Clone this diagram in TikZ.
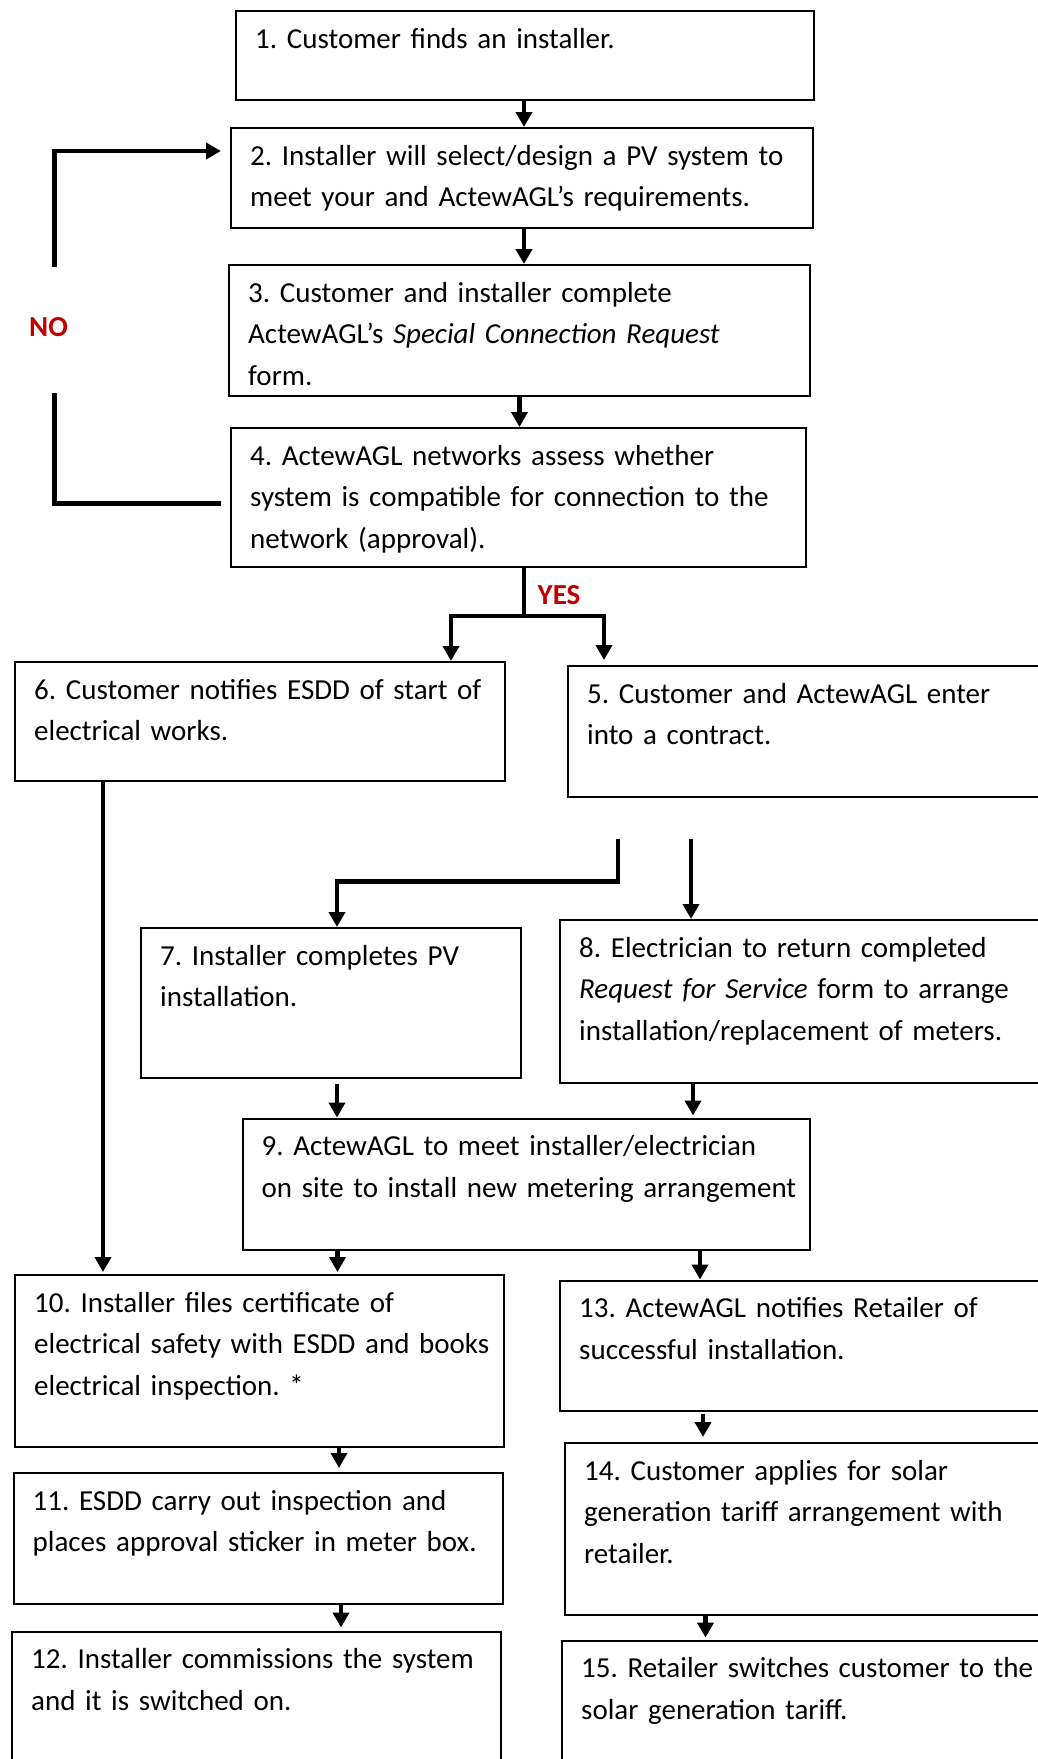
\documentclass[tikz,border=0pt]{standalone}
\usepackage{fontspec}
\setmainfont{Carlito}
\usetikzlibrary{arrows.meta}
\definecolor{answerred}{HTML}{C00000}
\newcommand\stepfont{\fontsize{29}{41.5}\selectfont\frenchspacing\spaceskip=5.6pt plus 2pt minus 1pt\relax}

\begin{document}
\begin{tikzpicture}[x=1pt, y=-1pt,
    stepbox/.style={draw, line width=2pt, inner sep=0pt, anchor=north west},
    steptext/.style={anchor=base west, inner sep=0pt, align=left, text width=600pt, font=\stepfont},
    flow/.style={line width=4.5pt, -{Triangle[length=15pt,width=16pt]}},
    bar/.style={line width=4.5pt},
    answer/.style={anchor=base west, inner sep=0pt, text=answerred, font=\fontsize{29}{36}\selectfont\bfseries}]
  \path[use as bounding box, clip] (0,0) rectangle (1038,1759);

  \node[stepbox, minimum width=578, minimum height=89] (b1) at (235,10) {};
  \node[steptext] (t1) at ([shift={(20,38)}]b1.north west) {1. Customer finds an installer.};
  \node[stepbox, minimum width=582, minimum height=100] (b2) at (230,127) {};
  \node[steptext] (t2) at ([shift={(20,38)}]b2.north west) {2. Installer will select/design a PV system to\\meet your and ActewAGL’s requirements.};
  \node[stepbox, minimum width=581, minimum height=131] (b3) at (228,264) {};
  \node[steptext] (t3) at ([shift={(20,38)}]b3.north west) {3. Customer and installer complete\\ActewAGL’s \textit{Special Connection Request}\\form.};
  \node[stepbox, minimum width=575, minimum height=139] (b4) at (230,427) {};
  \node[steptext] (t4) at ([shift={(20,38)}]b4.north west) {4. ActewAGL networks assess whether\\system is compatible for connection to the\\network (approval).};

  \node[stepbox, minimum width=490, minimum height=119] (b6) at (14,661) {};
  \node[steptext] (t6) at ([shift={(20,38)}]b6.north west) {6. Customer notifies ESDD of start of\\electrical works.};
  \node[stepbox, minimum width=493, minimum height=130.5] (b5) at (567,665) {};
  \node[steptext] (t5) at ([shift={(20,38)}]b5.north west) {5. Customer and ActewAGL enter\\into a contract.};

  \node[stepbox, minimum width=380, minimum height=150] (b7) at (140,927) {};
  \node[steptext] (t7) at ([shift={(20,38)}]b7.north west) {7. Installer completes PV\\installation.};
  \node[stepbox, minimum width=501, minimum height=163] (b8) at (559,919) {};
  \node[steptext] (t8) at ([shift={(20,38)}]b8.north west) {8. Electrician to return completed\\\textit{Request for Service} form to arrange\\installation/replacement of meters.};

  \node[stepbox, minimum width=567.5, minimum height=131] (b9) at (241.5,1117.5) {};
  \node[steptext] (t9) at ([shift={(20,38)}]b9.north west) {9. ActewAGL to meet installer/electrician\\on site to install new metering arrangement};

  \node[stepbox, minimum width=489, minimum height=171.5] (b10) at (14,1274) {};
  \node[steptext] (t10) at ([shift={(20,38)}]b10.north west) {10. Installer files certificate of\\electrical safety with ESDD and books\\electrical inspection. *};
  \node[stepbox, minimum width=489, minimum height=130.5] (b11) at (12.5,1472) {};
  \node[steptext] (t11) at ([shift={(20,38)}]b11.north west) {11. ESDD carry out inspection and\\places approval sticker in meter box.};
  \node[stepbox, minimum width=488.5, minimum height=200] (b12) at (11,1630.5) {};
  \node[steptext] (t12) at ([shift={(20,38)}]b12.north west) {12. Installer commissions the system\\and it is switched on.};

  \node[stepbox, minimum width=501, minimum height=130] (b13) at (559,1279.5) {};
  \node[steptext] (t13) at ([shift={(20,38)}]b13.north west) {13. ActewAGL notifies Retailer of\\successful installation.};
  \node[stepbox, minimum width=496, minimum height=171.5] (b14) at (564,1442) {};
  \node[steptext] (t14) at ([shift={(20,38)}]b14.north west) {14. Customer applies for solar\\generation tariff arrangement with\\retailer.};
  \node[stepbox, minimum width=499, minimum height=150] (b15) at (561,1639.5) {};
  \node[steptext] (t15) at ([shift={(20,38)}]b15.north west) {15. Retailer switches customer to the\\solar generation tariff.};

  \draw[flow] ([xshift=-1]b1.south) -- ([xshift=-1]b1.south |- b2.north);
  \draw[flow] ([xshift=2]b2.south) -- ([xshift=2]b2.south |- b3.north);
  \draw[flow] (b3.south) -- (b3.south |- b4.north);

  \node[answer] (no) at (29,336.5) {NO};
  \coordinate (noup) at (54.5,267);
  \coordinate (nodown) at (54.5,393);
  \draw[bar] ([shift={(-9,6)}]b4.west) -| (nodown);
  \draw[flow] (noup) |- ([shift={(-9,24)}]b2.north west);

  \node[answer] (yes) at (537.5,604.3) {YES};
  \coordinate (fork) at ([shift={(5.5,48)}]b4.south);
  \draw[bar] ([xshift=5.5]b4.south) -- (fork);
  \draw[flow] (fork) -| ([xshift=-55]b6.north east);
  \draw[flow] (fork) -| ([shift={(37,-5)}]b5.north west);

  \draw[flow] ([shift={(51,41)}]b5.south west) -- ++(0,43) -| ([xshift=6]b7.north);
  \draw[flow] ([shift={(124,41)}]b5.south west) -- ([xshift=132]b8.north west);
  \draw[flow] ([xshift=89]b6.south west) -- ([shift={(89,-2)}]b10.north west);
  \draw[flow] ([shift={(6,5)}]b7.south) -- ([xshift=6]b7.south |- b9.north);
  \draw[flow] ([xshift=134]b8.south west) -- ([shift={(134,-2)}]b8.south west |- b9.north);
  \draw[flow] ([xshift=96]b9.south west) -- ([shift={(96,-2)}]b9.south west |- b10.north);
  \draw[flow] ([xshift=458.5]b9.south west) -- ([xshift=458.5]b9.south west |- b13.north);
  \draw[flow] ([xshift=325]b10.south west) -- ([shift={(325,-4)}]b10.south west |- b11.north);
  \draw[flow] ([xshift=328.5]b11.south west) -- ([shift={(328.5,-3)}]b11.south west |- b12.north);
  \draw[flow] ([shift={(144,2.5)}]b13.south west) -- ([shift={(144,-5)}]b13.south west |- b14.north);
  \draw[flow] ([xshift=141.5]b14.south west) -- ([shift={(141.5,-2)}]b14.south west |- b15.north);
\end{tikzpicture}
\end{document}
